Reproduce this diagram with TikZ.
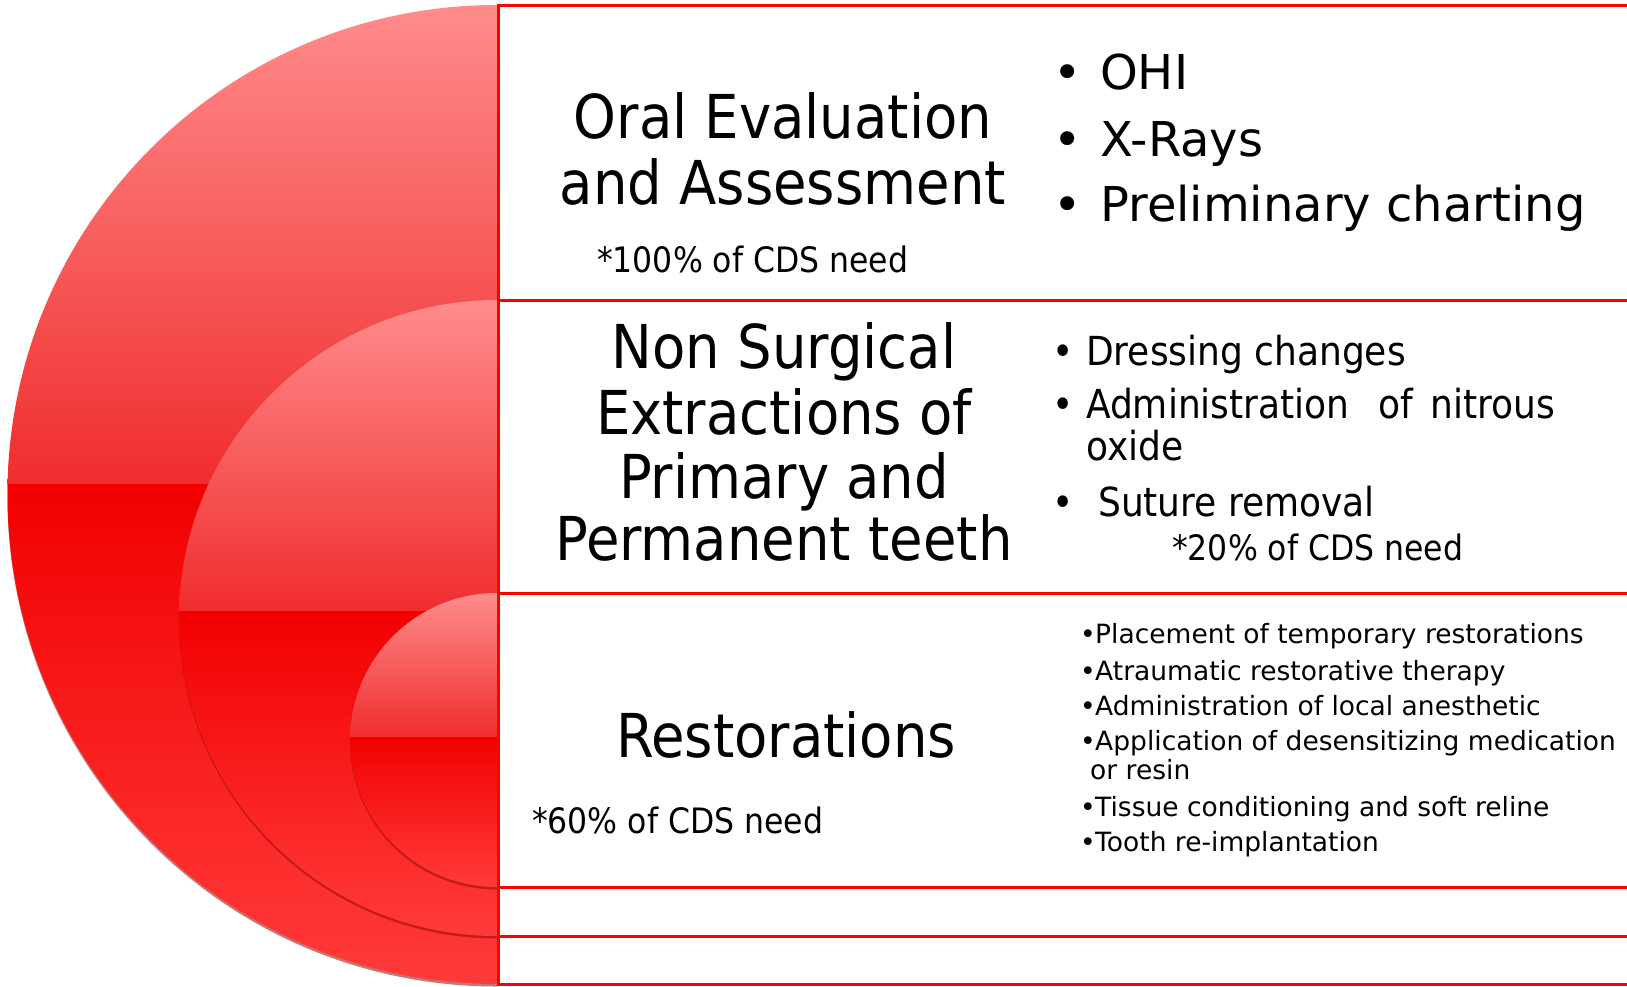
\documentclass[tikz,border=0pt]{standalone}
\usepackage{fontspec}
\setmainfont{DejaVu Sans Condensed}
\newfontfamily\widefont{DejaVu Sans}
\definecolor{pinktop}{RGB}{255,140,140}
\definecolor{redmid}{RGB}{240,45,45}
\definecolor{redlow}{RGB}{242,0,0}
\definecolor{redbot}{RGB}{255,58,58}
\definecolor{shadowred}{RGB}{150,10,10}
\definecolor{linered}{RGB}{255,0,0}
\newcommand\bulgap[1]{\llap{\makebox[#1][l]{•}}}
\tikzset{
  head/.style={font=\fontsize{60.5}{64}\selectfont, inner sep=0pt, anchor=base},
  note/.style={font=\fontsize{35}{39}\selectfont, inner sep=0pt, anchor=base west},
  bigitem/.style={font=\widefont\fontsize{48}{52}\selectfont, inner sep=0pt, anchor=base west},
  miditem/.style={font=\fontsize{40}{44}\selectfont, inner sep=0pt, anchor=base west},
  smallitem/.style={font=\widefont\fontsize{26.5}{30}\selectfont, inner sep=0pt, anchor=base west},
  rule/.style={draw=linered, line width=3pt},
}
\begin{document}
\begin{tikzpicture}[x=1pt,y=-1pt]
\useasboundingbox (0,0) rectangle (1627,986);
\fill[white] (0,0) rectangle (1627,986);
% half circles: center y, radius
\foreach \cy/\r in {494.5/489.5, 618/318, 740/147}{
  \begin{scope}
    \clip (0,0) rectangle (497,986);
    \fill[shadowred, opacity=0.55] (497,\cy+2.5) circle[radius=\r];
    \clip (497,\cy) circle[radius=\r];
    \pgfmathsetmacro\ysplit{\cy-0.02*\r}
    \shade[top color=pinktop, bottom color=redmid] (0,\cy-\r) rectangle (497,\ysplit);
    \shade[top color=redlow, bottom color=redbot] (0,\ysplit) rectangle (497,\cy+\r);
  \end{scope}
}
% table rules
\coordinate (vt) at (498,5);
\coordinate (vb) at (498,986);
\draw[rule] (vt) -- (vb);
\foreach \yy in {5,300,593,887,936,984.5}{
  \draw[rule] (497,\yy) -- (1627,\yy);
}
% row 1
\node[head] (h1a) at (783,138) {Oral Evaluation};
\node[head] (h1b) at (783,204) {and Assessment};
\node[note] (n1) at (597,272) {*100\% of CDS need};
\node[bigitem] (b1a) at (1100,89) {\bulgap{47pt}OHI};
\node[bigitem] (b1b) at (1100,156) {\bulgap{47pt}X-Rays};
\node[bigitem] (b1c) at (1100,221) {\bulgap{47pt}Preliminary charting};
% row 2
\node[head] (h2a) at (784,368) {Non Surgical};
\node[head] (h2b) at (784,434) {Extractions of};
\node[head] (h2c) at (784,498) {Primary and};
\node[head] (h2d) at (784,560) {Permanent teeth};
\node[miditem] (b2a) at (1086,365) {\bulgap{34pt}Dressing changes};
\node[miditem] (b2b) at (1086,418) {\bulgap{34pt}Administration\hspace{18pt} of\hspace{6pt} nitrous};
\node[miditem] (b2c) at (1086,460) {oxide};
\node[miditem] (b2d) at (1098,516) {\bulgap{46pt}Suture removal};
\node[note] (n2) at (1172,560) {*20\% of CDS need};
% row 3
\node[head] (h3) at (786,757) {Restorations};
\node[note] (n3) at (532,833) {*60\% of CDS need};
\node[smallitem] (b3a) at (1095,643) {\bulgap{15pt}Placement of temporary restorations};
\node[smallitem] (b3b) at (1095,680) {\bulgap{15pt}Atraumatic restorative therapy};
\node[smallitem] (b3c) at (1095,715) {\bulgap{15pt}Administration of local anesthetic};
\node[smallitem] (b3d) at (1095,750) {\bulgap{15pt}Application of desensitizing medication};
\node[smallitem] (b3e) at (1090,779) {or resin};
\node[smallitem] (b3f) at (1095,816) {\bulgap{15pt}Tissue conditioning and soft reline};
\node[smallitem] (b3g) at (1095,851) {\bulgap{15pt}Tooth re-implantation};
\end{tikzpicture}
\end{document}
